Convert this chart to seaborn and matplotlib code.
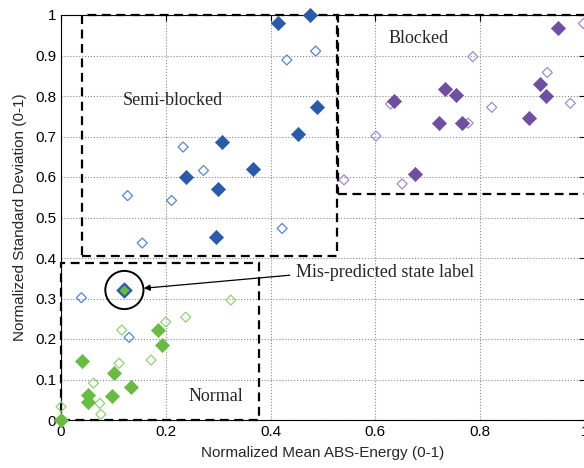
import numpy as np
import pandas as pd
import matplotlib
matplotlib.use("Agg")
import matplotlib.pyplot as plt
import seaborn as sns
from matplotlib.patches import Rectangle

# ---------------- data ----------------
semi_filled_x = [0.415, 0.476, 0.489, 0.452, 0.307, 0.366, 0.239, 0.300, 0.295]
semi_filled_y = [0.981, 1.000, 0.772, 0.705, 0.686, 0.620, 0.601, 0.571, 0.451]
semi_open_x = [0.486, 0.431, 0.233, 0.272, 0.127, 0.211, 0.422, 0.155, 0.039, 0.130]
semi_open_y = [0.911, 0.889, 0.674, 0.616, 0.554, 0.542, 0.473, 0.437, 0.302, 0.204]

blocked_filled_x = [0.949, 0.732, 0.754, 0.635, 0.914, 0.925, 0.722, 0.765, 0.894, 0.676]
blocked_filled_y = [0.969, 0.818, 0.802, 0.788, 0.830, 0.800, 0.734, 0.734, 0.746, 0.607]
blocked_open_x = [0.997, 0.786, 0.928, 0.629, 0.822, 0.972, 0.777, 0.601, 0.540, 0.651]
blocked_open_y = [0.979, 0.897, 0.858, 0.780, 0.772, 0.782, 0.733, 0.701, 0.593, 0.583]

normal_filled_x = [0.186, 0.193, 0.041, 0.101, 0.051, 0.051, 0.098, 0.134, 0.000]
normal_filled_y = [0.222, 0.186, 0.146, 0.117, 0.062, 0.045, 0.059, 0.082, 0.000]
normal_open_x = [0.324, 0.238, 0.200, 0.116, 0.172, 0.111, 0.062, 0.074, 0.076, 0.000]
normal_open_y = [0.296, 0.254, 0.242, 0.222, 0.148, 0.140, 0.091, 0.041, 0.014, 0.033]

mis_x = [0.121]
mis_y = [0.321]

xticks = [0, 0.2, 0.4, 0.6, 0.8, 1]
yticks = [0, 0.1, 0.2, 0.3, 0.4, 0.5, 0.6, 0.7, 0.8, 0.9, 1]
xtick_labels = ["0", "0.2", "0.4", "0.6", "0.8", "1"]
ytick_labels = ["0", "0.1", "0.2", "0.3", "0.4", "0.5", "0.6", "0.7", "0.8", "0.9", "1"]

# ---------------- style ----------------
sns.set_style("white")
plt.rcParams['font.family'] = ['Liberation Sans', 'DejaVu Sans']

BLUE = "#2b5aa8"
BLUE_L = "#5a86c8"
PURPLE = "#6f4fa0"
PURPLE_L = "#a08cc8"
GREEN = "#6abb45"
GREEN_L = "#95d07a"

fig = plt.figure(figsize=(5.84, 4.68), dpi=100)
ax = fig.add_axes([61 / 584, 48 / 468, 524 / 584, 405 / 468])

def pts(x, y):
    return pd.DataFrame({"x": x, "y": y})

S_FILL = 52
S_OPEN = 26

def filled(x, y, c, s=S_FILL, z=3):
    sns.scatterplot(data=pts(x, y), x="x", y="y", marker="D", s=s,
                    color=c, edgecolor=c, linewidth=0.5, ax=ax, zorder=z,
                    legend=False, clip_on=False)

def hollow(x, y, c, z=3):
    sns.scatterplot(data=pts(x, y), x="x", y="y", marker="D", s=S_OPEN,
                    facecolor="none", edgecolor=c, linewidth=0.9, ax=ax, zorder=z,
                    legend=False, clip_on=False)

hollow(semi_open_x, semi_open_y, BLUE_L)
hollow(blocked_open_x, blocked_open_y, PURPLE_L)
hollow(normal_open_x, normal_open_y, GREEN_L)
filled(semi_filled_x, semi_filled_y, BLUE)
filled(blocked_filled_x, blocked_filled_y, PURPLE)
filled(normal_filled_x, normal_filled_y, GREEN)
# mis-predicted point: blue diamond with green overlay
filled(mis_x, mis_y, BLUE, s=62, z=4)
filled(mis_x, mis_y, GREEN, s=22, z=5)

# circle around mis-predicted point
ax.scatter(mis_x, mis_y, marker="o", s=27.5 ** 2, facecolor="none",
           edgecolor="black", linewidth=1.4, zorder=6)

# dashed region boxes
box_kw = dict(fill=False, edgecolor="black", linestyle=(0, (4, 2.5)), linewidth=1.6, zorder=2, clip_on=False)
ax.add_patch(Rectangle((0.040, 0.405), 0.487, 0.595, **box_kw))
ax.add_patch(Rectangle((0.528, 0.557), 0.5, 0.443, **box_kw))
ax.add_patch(Rectangle((0.0, 0.0), 0.378, 0.388, **box_kw))

serif = ['Liberation Serif', 'DejaVu Serif']
ax.text(0.214, 0.79, "Semi-blocked", family=serif, fontsize=13, ha="center", va="center")
ax.text(0.683, 0.942, "Blocked", family=serif, fontsize=13, ha="center", va="center")
ax.text(0.295, 0.058, "Normal", family=serif, fontsize=13, ha="center", va="center")

ax.annotate("Mis-predicted state label", xy=(mis_x[0], mis_y[0]), xytext=(0.448, 0.363),
            family=serif, fontsize=13, ha="left", va="center",
            arrowprops=dict(arrowstyle="-|>", color="black", lw=0.9,
                            shrinkA=2, shrinkB=14, mutation_scale=9,
                            relpos=(0, 0.4)),
            zorder=7)

ax.set_xlim(0, 1)
ax.set_ylim(0, 1)
ax.set_xticks(xticks)
ax.set_xticklabels(xtick_labels)
ax.set_yticks(yticks)
ax.set_yticklabels(ytick_labels)
ax.grid(True, linestyle=":", color="#888888", linewidth=0.8)
ax.set_axisbelow(True)
ax.tick_params(direction="in", length=4, labelsize=11, colors="black", top=True, right=True)
for sp in ax.spines.values():
    sp.set_color("black")
    sp.set_linewidth(0.8)
ax.set_xlabel("Normalized Mean ABS-Energy (0-1)", fontsize=11, labelpad=5)
ax.set_ylabel("Normalized Standard Deviation (0-1)", fontsize=11, labelpad=6)

fig.savefig("out.png", dpi=100)
